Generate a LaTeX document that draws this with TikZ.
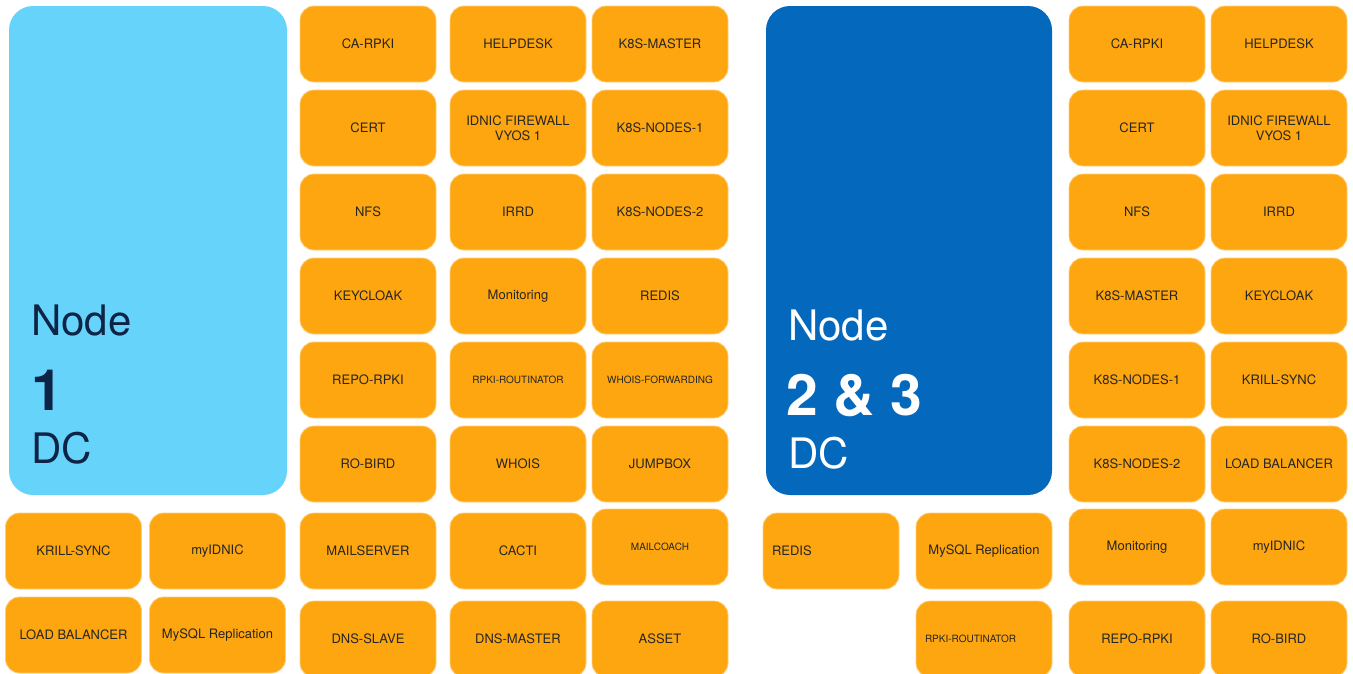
\documentclass[tikz,border=0pt]{standalone}
\usepackage{fontspec}
\setmainfont{TeX Gyre Heros}
\definecolor{srvorange}{HTML}{FDA60F}
\definecolor{dcone}{HTML}{66D3FB}
\definecolor{dctwo}{HTML}{0468BD}
\definecolor{dcnavy}{HTML}{0E2446}
\tikzset{
	srv/.style={fill=srvorange, draw=srvorange!55!white, line width=0.8pt, rounded corners=14pt,
		minimum width=136pt, minimum height=76pt, align=center, inner sep=2pt, text=black!85,
		font=\fontsize{13}{15}\selectfont},
	srvsmall/.style={srv, font=\fontsize{10}{12}\selectfont},
	srvleft/.style={text width=118pt, align=left, inner xsep=9pt},
	dcbox/.style={rounded corners=24pt, minimum width=278pt, minimum height=489pt, inner sep=0pt},
	dctext/.style={anchor=base west, inner sep=0pt, font=\fontsize{42}{42}\selectfont},
	dcbig/.style={anchor=base west, inner sep=0pt, font=\fontsize{57}{57}\selectfont\bfseries}
}
\begin{document}
\begin{tikzpicture}[x=1pt, y=-1pt]
		\useasboundingbox (0,0) rectangle (1353,673);
		% data centre blocks
		\node[dcbox, fill=dcone] (dc1) at (148,250.5) {};
		\node[dctext, text=dcnavy] (dc1node) at (31,335) {Node};
		\node[dcbig, text=dcnavy] (dc1num) at (31,410) {1};
		\node[dctext, text=dcnavy] (dc1dc) at (31,463) {DC};
		\node[dcbox, fill=dctwo, minimum width=286pt] (dc2) at (909,250.5) {};
		\node[dctext, text=white] (dc2node) at (788,340) {Node};
		\node[dcbig, text=white] (dc2num) at (786,415) {2 \& 3};
		\node[dctext, text=white] (dc2dc) at (788,468) {DC};
		% node 1 servers
		\foreach \lbl [count=\i from 0] in {CA-RPKI, CERT, NFS, KEYCLOAK, REPO-RPKI, RO-BIRD}
			\node[srv] (a\i) at (368,44+84*\i) {\lbl};
		\foreach \lbl [count=\i from 0] in {HELPDESK, {IDNIC FIREWALL\\VYOS 1}, IRRD, Monitoring}
			\node[srv] (b\i) at (518,44+84*\i) {\lbl};
		\node[srvsmall] (b4) at (518,380) {RPKI-ROUTINATOR};
		\node[srv] (b5) at (518,464) {WHOIS};
		\foreach \lbl [count=\i from 0] in {K8S-MASTER, K8S-NODES-1, K8S-NODES-2, REDIS}
			\node[srv] (c\i) at (660,44+84*\i) {\lbl};
		\node[srvsmall] (c4) at (660,380) {WHOIS-FORWARDING};
		\node[srv] (c5) at (660,464) {JUMPBOX};
		\node[srv] (a6) at (368,551) {MAILSERVER};
		\node[srv] (a7) at (368,639) {DNS-SLAVE};
		\node[srv] (b6) at (518,551) {CACTI};
		\node[srv] (b7) at (518,639) {DNS-MASTER};
		\node[srvsmall] (c6) at (660,547) {MAILCOACH};
		\node[srv] (c7) at (660,639) {ASSET};
		\node[srv] (l0) at (73.5,551) {KRILL-SYNC};
		\node[srv] (l1) at (217.5,551) {myIDNIC};
		\node[srv] (l2) at (73.5,635) {LOAD BALANCER};
		\node[srv] (l3) at (217.5,635) {MySQL Replication};
		% node 2 & 3 servers
		\foreach \lbl [count=\i from 0] in {CA-RPKI, CERT, NFS, K8S-MASTER, K8S-NODES-1, K8S-NODES-2}
			\node[srv] (d\i) at (1137,44+84*\i) {\lbl};
		\foreach \lbl [count=\i from 0] in {HELPDESK, {IDNIC FIREWALL\\VYOS 1}, IRRD, KEYCLOAK, KRILL-SYNC, LOAD BALANCER}
			\node[srv] (e\i) at (1279,44+84*\i) {\lbl};
		\node[srv] (d6) at (1137,547) {Monitoring};
		\node[srv] (d7) at (1137,639) {REPO-RPKI};
		\node[srv] (e6) at (1279,547) {myIDNIC};
		\node[srv] (e7) at (1279,639) {RO-BIRD};
		\node[srv, srvleft] (r0) at (831,551) {REDIS};
		\node[srv] (r1) at (984,551) {MySQL Replication};
		\node[srvsmall, srvleft] (r2) at (984,639) {RPKI-ROUTINATOR};
\end{tikzpicture}
\end{document}
